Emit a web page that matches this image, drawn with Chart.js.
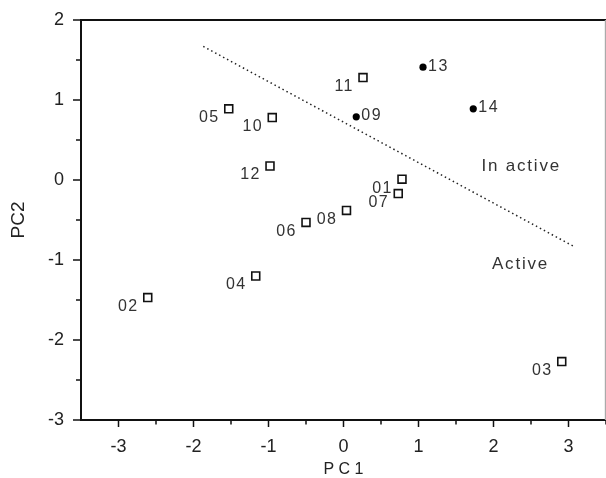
<!DOCTYPE html>
<html>
<head>
<meta charset="utf-8">
<script src="https://cdn.jsdelivr.net/npm/chart.js@4/dist/chart.umd.min.js"></script>
<style>
  html, body { margin: 0; padding: 0; background: #fff; }
  #wrap { width: 606px; height: 478px; }
</style>
</head>
<body>
<div id="wrap"><canvas id="c" width="606" height="478"></canvas></div>
<script>
// Open squares
const squareLabels = ['01','02','03','04','05','06','07','08','10','11','12'];
const squareX = [0.78, -2.61, 2.91, -1.17, -1.53, -0.50, 0.73, 0.04, -0.95, 0.26, -0.98];
const squareY = [0.01, -1.47, -2.27, -1.20, 0.89, -0.53, -0.17, -0.38, 0.78, 1.28, 0.175];
// Filled dots
const dotLabels = ['09','13','14'];
const dotX = [0.17, 1.06, 1.73];
const dotY = [0.79, 1.41, 0.89];
// Dotted separating line
const lineX = [-1.87, 3.07];
const lineY = [1.67, -0.83];
// Axis ticks
const xTickValues = [-3, -2, -1, 0, 1, 2, 3];
const yTickValues = [-3, -2, -1, 0, 1, 2];
const regionLabels = ['In active', 'Active'];
const regionX = [2.37, 2.36];
const regionY = [0.17, -1.06];

const FONT = '"Liberation Sans", Arial, Helvetica, sans-serif';
const toPts = (xs, ys) => xs.map((x, i) => ({ x: x, y: ys[i] }));

const frameAndTicks = {
  id: 'frameAndTicks',
  afterDraw(chart) {
    const ctx = chart.ctx;
    const a = chart.chartArea;
    const xs = chart.scales.x, ys = chart.scales.y;
    ctx.save();
    ctx.strokeStyle = '#111';
    ctx.lineWidth = 2;
    ctx.beginPath();
    ctx.moveTo(a.left - 1, a.top);
    ctx.lineTo(a.right, a.top);
    ctx.stroke();
    ctx.lineWidth = 1.2;
    ctx.strokeStyle = '#aaa';
    ctx.beginPath();
    ctx.moveTo(a.right - 0.6, a.top);
    ctx.lineTo(a.right - 0.6, a.bottom);
    ctx.stroke();
    ctx.strokeStyle = '#111';
    ctx.lineWidth = 1.5;
    for (let v = -3; v <= 3.5001; v += 0.5) {
      const px = xs.getPixelForValue(v);
      const major = Math.abs(v - Math.round(v)) < 1e-6;
      ctx.beginPath();
      ctx.moveTo(px, a.bottom);
      ctx.lineTo(px, a.bottom + (major ? 7 : 4.5));
      ctx.stroke();
    }
    for (let v = -3; v <= 2.0001; v += 0.5) {
      const py = ys.getPixelForValue(v);
      const major = Math.abs(v - Math.round(v)) < 1e-6;
      ctx.beginPath();
      ctx.moveTo(a.left, py);
      ctx.lineTo(a.left - (major ? 8 : 5), py);
      ctx.stroke();
    }
    ctx.restore();
  }
};

const pointLabels = {
  id: 'pointLabels',
  afterDatasetsDraw(chart) {
    const ctx = chart.ctx;
    ctx.save();
    ctx.font = '16px ' + FONT;
    ctx.fillStyle = '#333';
    ctx.textBaseline = 'middle';
    try { ctx.letterSpacing = '1.5px'; } catch (e) {}
    const sq = chart.getDatasetMeta(0).data;
    ctx.textAlign = 'right';
    sq.forEach((el, i) => { ctx.fillText(squareLabels[i], el.x - 9, el.y + 9); });
    const dt = chart.getDatasetMeta(1).data;
    ctx.textAlign = 'left';
    dt.forEach((el, i) => { ctx.fillText(dotLabels[i], el.x + 5, el.y - 1); });
    ctx.font = '17px ' + FONT;
    try { ctx.letterSpacing = '1.8px'; } catch (e) {}
    ctx.textAlign = 'center';
    const xs = chart.scales.x, ys = chart.scales.y;
    regionLabels.forEach((t, i) => {
      ctx.fillText(t, xs.getPixelForValue(regionX[i]), ys.getPixelForValue(regionY[i]));
    });
    ctx.restore();
  }
};

new Chart(document.getElementById('c'), {
  type: 'scatter',
  data: {
    datasets: [
      { label: 'squares', data: toPts(squareX, squareY), pointStyle: 'rect', pointRadius: 5.6,
        pointBorderWidth: 1.6, pointBorderColor: '#111', pointBackgroundColor: '#fff' },
      { label: 'dots', data: toPts(dotX, dotY), pointStyle: 'circle', pointRadius: 3.6,
        pointBorderWidth: 0, pointBackgroundColor: '#000', pointBorderColor: '#000' },
      { label: 'boundary', type: 'line', data: toPts(lineX, lineY), borderColor: '#222',
        borderWidth: 1.5, borderDash: [1.5, 3], pointRadius: 0, fill: false }
    ]
  },
  options: {
    responsive: false,
    animation: false,
    events: [],
    layout: { autoPadding: false, padding: { top: 20, right: 0, left: 0, bottom: 0 } },
    plugins: { legend: { display: false }, tooltip: { enabled: false } },
    scales: {
      x: {
        type: 'linear', min: -3.5, max: 3.5,
        afterFit(s) { s.height = 58; s.paddingLeft = 0; s.paddingRight = 0; },
        afterBuildTicks(s) { s.ticks = xTickValues.map(v => ({ value: v })); },
        grid: { display: true, drawOnChartArea: false, drawTicks: false },
        border: { display: true, color: '#111', width: 2 },
        ticks: { padding: 16, color: '#222', font: { family: FONT, size: 18 }, maxRotation: 0, callback: v => String(v) },
        title: { display: true, text: 'P C 1', color: '#222', font: { family: FONT, size: 16, lineHeight: 1 }, padding: { top: 0, bottom: 0 } }
      },
      y: {
        type: 'linear', min: -3, max: 2,
        afterFit(s) { s.width = 81; s.paddingTop = 0; s.paddingBottom = 0; },
        afterBuildTicks(s) { s.ticks = yTickValues.map(v => ({ value: v })); },
        grid: { display: true, drawOnChartArea: false, drawTicks: false },
        border: { display: true, color: '#111', width: 2 },
        ticks: { padding: 17, color: '#222', font: { family: FONT, size: 18 }, callback: v => String(v) },
        title: { display: true, text: 'PC2', color: '#222', font: { family: FONT, size: 19 }, padding: { top: 7, bottom: 0 } }
      }
    }
  },
  plugins: [frameAndTicks, pointLabels]
});
</script>
</body>
</html>
